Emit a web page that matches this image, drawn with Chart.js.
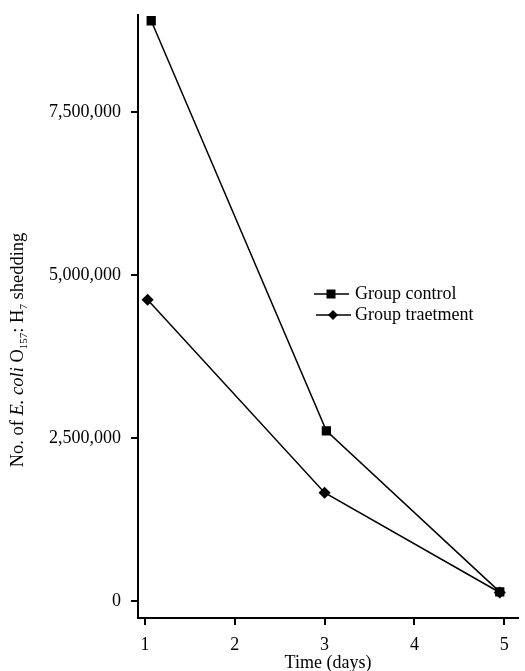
<!DOCTYPE html>
<html>
<head>
<meta charset="utf-8">
<script src="https://cdn.jsdelivr.net/npm/chart.js@4/dist/chart.umd.min.js"></script>
<style>
  html, body { margin: 0; padding: 0; background: #fff; }
  #wrap { width: 525px; height: 671px; }
</style>
</head>
<body>
<div id="wrap"><canvas id="chart" width="525" height="671"></canvas></div>
<script>
// Data
const controlDays = [1.07, 3.02, 4.95];
const controlValues = [8900000, 2610000, 140000];
const treatmentDays = [1.03, 3.0, 4.95];
const treatmentValues = [4620000, 1660000, 130000];
const xTicks = [1, 2, 3, 4, 5];
const yTicks = [0, 2500000, 5000000, 7500000];
const seriesNames = ["Group control", "Group traetment"];

const FONT = "'Liberation Serif', 'Times New Roman', serif";

function toPoints(xs, ys) {
  return xs.map((x, i) => ({ x: x, y: ys[i] }));
}

// Y-axis title with italic species name and subscripts
const yTitlePlugin = {
  id: "yTitle",
  afterDraw(chart) {
    const ctx = chart.ctx;
    const parts = [
      { t: "No. of ", f: "18.5px " + FONT, dy: 0 },
      { t: "E. coli", f: "italic 18.5px " + FONT, dy: 0 },
      { t: " O", f: "18.5px " + FONT, dy: 0 },
      { t: "157", f: "11px " + FONT, dy: 4 },
      { t: ": H", f: "18.5px " + FONT, dy: 0 },
      { t: "7", f: "11px " + FONT, dy: 4 },
      { t: " shedding", f: "18.5px " + FONT, dy: 0 }
    ];
    let total = 0;
    parts.forEach((p) => { ctx.font = p.f; p.w = ctx.measureText(p.t).width; total += p.w; });
    ctx.save();
    ctx.translate(23, 350);
    ctx.rotate(-Math.PI / 2);
    ctx.fillStyle = "#000";
    ctx.textBaseline = "alphabetic";
    let x = -total / 2;
    parts.forEach((p) => {
      ctx.font = p.f;
      ctx.fillText(p.t, x, p.dy);
      x += p.w;
    });
    ctx.restore();
  }
};

// Legend: line with marker, drawn inside the plot
const legendPlugin = {
  id: "lineLegend",
  afterDraw(chart) {
    const ctx = chart.ctx;
    const rows = [{ y: 294, style: "rect" }, { y: 315, style: "rectRot" }];
    ctx.save();
    rows.forEach((r, i) => {
      ctx.strokeStyle = "#000";
      ctx.lineWidth = 1.5;
      ctx.beginPath();
      ctx.moveTo(i === 0 ? 314 : 316, r.y);
      ctx.lineTo(i === 0 ? 349 : 351, r.y);
      ctx.stroke();
      ctx.fillStyle = "#000";
      const cx = i === 0 ? 331 : 333;
      if (r.style === "rect") {
        ctx.fillRect(cx - 4.5, r.y - 4.5, 9, 9);
      } else {
        ctx.beginPath();
        ctx.moveTo(cx, r.y - 5);
        ctx.lineTo(cx + 5, r.y);
        ctx.lineTo(cx, r.y + 5);
        ctx.lineTo(cx - 5, r.y);
        ctx.closePath();
        ctx.fill();
      }
      ctx.font = "18px " + FONT;
      ctx.textBaseline = "middle";
      ctx.fillText(seriesNames[i], 355, r.y);
    });
    ctx.restore();
  }
};

new Chart(document.getElementById("chart").getContext("2d"), {
  type: "line",
  data: {
    datasets: [
      {
        label: seriesNames[0],
        data: toPoints(controlDays, controlValues),
        borderColor: "#000",
        backgroundColor: "#000",
        borderWidth: 1.5,
        pointStyle: "rect",
        pointRadius: 5.5,
        pointHoverRadius: 5.5
      },
      {
        label: seriesNames[1],
        data: toPoints(treatmentDays, treatmentValues),
        borderColor: "#000",
        backgroundColor: "#000",
        borderWidth: 1.5,
        pointStyle: "rectRot",
        pointRadius: 5,
        pointHoverRadius: 5
      }
    ]
  },
  options: {
    responsive: false,
    animation: false,
    events: [],
    layout: { padding: { top: 15, right: 0, left: 0, bottom: 0 } },
    plugins: {
      legend: { display: false },
      tooltip: { enabled: false }
    },
    scales: {
      x: {
        type: "linear",
        min: 0.923,
        max: 5.153,
        afterBuildTicks: (s) => { s.ticks = xTicks.map((v) => ({ value: v })); },
        afterFit: (s) => { s.height = 53; s.paddingLeft = 0; s.paddingRight = 0; },
        border: { display: true, color: "#000", width: 2 },
        grid: { drawOnChartArea: false, drawTicks: true, tickLength: 7, color: "#000", lineWidth: 2 },
        ticks: { color: "#000", font: { family: FONT, size: 18 }, padding: 9, maxRotation: 0 },
        title: { display: true, text: "Time (days)", color: "#000", font: { family: FONT, size: 18 }, padding: { top: 0, bottom: -3 } }
      },
      y: {
        type: "linear",
        min: -261000,
        max: 8988000,
        afterBuildTicks: (s) => { s.ticks = yTicks.map((v) => ({ value: v })); },
        afterFit: (s) => { s.width = 138; s.paddingTop = 0; s.paddingBottom = 0; },
        border: { display: true, color: "#000", width: 2 },
        grid: { drawOnChartArea: false, drawTicks: true, tickLength: 7, color: "#000", lineWidth: 2 },
        ticks: {
          color: "#000",
          font: { family: FONT, size: 18 },
          padding: 10,
          callback: (v) => v.toLocaleString("en-US")
        }
      }
    }
  },
  plugins: [yTitlePlugin, legendPlugin]
});
</script>
</body>
</html>
